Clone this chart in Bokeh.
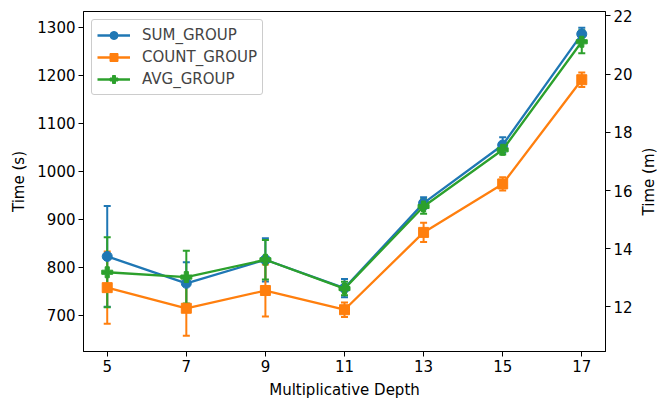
import math
from bokeh.plotting import figure
from bokeh.models import (ColumnDataSource, Range1d, LinearAxis, Whisker, TeeHead,
                          Legend, LegendItem, FixedTicker, Label)
from bokeh.embed import file_html
from bokeh.resources import INLINE

depth = [5, 7, 9, 11, 13, 15, 17]
sum_mean = [823, 767, 816, 757, 934, 1055, 1286]
sum_err = [105, 44, 45, 19, 12, 16, 13]
count_mean = [758, 715, 752, 712, 873, 974, 1191]
count_err = [75, 57, 54, 15, 20, 14, 15]
avg_mean = [790, 780, 816, 756, 927, 1045, 1270]
avg_err = [73, 55, 41, 14, 15, 10, 24]
series_names = ["SUM_GROUP", "COUNT_GROUP", "AVG_GROUP"]
colors = ["#1f77b4", "#ff7f0e", "#2ca02c"]
markers = ["circle", "square", "plus"]
x_ticks = depth
left_ticks = [700, 800, 900, 1000, 1100, 1200, 1300]
right_ticks = [12, 14, 16, 18, 20, 22]

FONT = "DejaVu Sans"
FS = "15px"

p = figure(width=657, height=401, output_backend="svg", toolbar_location=None,
           x_range=Range1d(4.4, 17.6), y_range=Range1d(625, 1333),
           min_border_left=83, min_border_right=52, min_border_top=11, min_border_bottom=50)
p.extra_y_ranges = {"min": Range1d(10.47, 22.15)}
p.xgrid.visible = False
p.ygrid.visible = False
p.outline_line_color = "black"
p.outline_line_width = 1
p.outline_line_alpha = 1
p.background_fill_color = "white"
p.border_fill_color = "white"

right_axis = LinearAxis(y_range_name="min")
p.add_layout(right_axis, "right")

p.xaxis.ticker = FixedTicker(ticks=x_ticks)
p.yaxis[0].ticker = FixedTicker(ticks=left_ticks)
right_axis.ticker = FixedTicker(ticks=right_ticks)
p.xaxis.axis_label = "Multiplicative Depth"
p.yaxis[0].axis_label = "Time (s)"

for ax in p.xaxis + p.yaxis:
    ax.axis_label_text_font = FONT
    ax.axis_label_text_font_size = FS
    ax.axis_label_text_font_style = "normal"
    ax.axis_label_text_color = "black"
    ax.major_label_text_font = FONT
    ax.major_label_text_font_size = FS
    ax.major_label_text_color = "black"
    ax.major_tick_in = 0
    ax.major_tick_out = 5
    ax.minor_tick_in = 0
    ax.minor_tick_out = 0
    ax.axis_line_color = "black"
    ax.major_tick_line_color = "black"
    ax.major_label_standoff = 3
    ax.axis_label_standoff = 6

right_label = Label(x=13, y=170, x_units="screen", y_units="screen", text="Time (m)",
                    angle=math.pi / 2, text_align="center", text_baseline="middle",
                    text_font=FONT, text_font_size=FS, text_color="black")
p.add_layout(right_label, "right")

items = []
for name, mean, err, c, m in zip(series_names, [sum_mean, count_mean, avg_mean],
                                 [sum_err, count_err, avg_err], colors, markers):
    src = ColumnDataSource(dict(x=depth, y=mean,
                                lo=[a - b for a, b in zip(mean, err)],
                                hi=[a + b for a, b in zip(mean, err)]))
    w = Whisker(source=src, base="x", upper="hi", lower="lo", dimension="height",
                line_color=c, line_width=2,
                upper_head=TeeHead(size=7, line_color=c, line_width=2),
                lower_head=TeeHead(size=7, line_color=c, line_width=2))
    p.add_layout(w)
    ln = p.line("x", "y", source=src, line_color=c, line_width=2.3)
    sc = p.scatter("x", "y", source=src, marker=m, size=11 if m == "plus" else 10,
                   fill_color=c, line_color=c)
    items.append(LegendItem(label=name, renderers=[ln, sc]))

legend = Legend(items=items, location="top_left")
legend.label_text_font = FONT
legend.label_text_font_size = FS
legend.border_line_color = "#cccccc"
legend.border_line_alpha = 1
legend.border_radius = 3
legend.background_fill_alpha = 0.8
legend.glyph_width = 33
legend.glyph_height = 20
legend.label_height = 20
legend.spacing = 2
legend.padding = 5
legend.margin = 8
legend.label_standoff = 12
p.add_layout(legend)

open("out.html", "w").write(file_html(p, INLINE))
